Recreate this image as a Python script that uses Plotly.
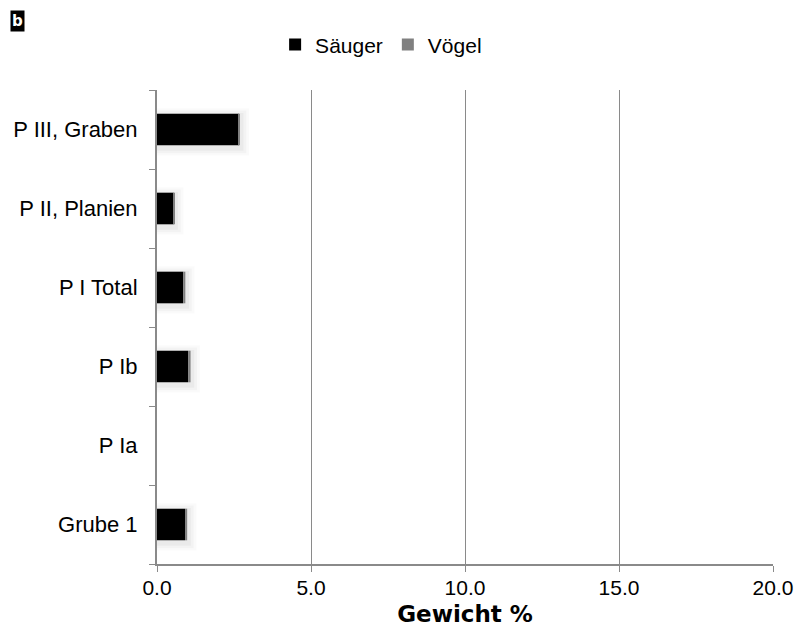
import plotly.graph_objects as go

# Fundstellen (bottom to top on the category axis)
kontexte = ["Grube 1", "P Ia", "P Ib", "P I Total", "P II, Planien", "P III, Graben"]
saeuger = [0.91, 0.0, 1.01, 0.85, 0.54, 2.66]
voegel = [0.07, 0.0, 0.08, 0.07, 0.02, 0.03]
x_ticks = [0, 5, 10, 15, 20]
x_labels = ["0.0", "5.0", "10.0", "15.0", "20.0"]

axis_grey = "#8a8a8a"
font_main = "Liberation Sans, Arial, sans-serif"
bar_w = 0.4

totals = [s + v for s, v in zip(saeuger, voegel)]

fig = go.Figure()

# soft drop shadow under each stacked bar
for grow, alpha in [(0.2, 0.02), (0.14, 0.028), (0.08, 0.035)]:
    w = bar_w + grow
    fig.add_trace(go.Bar(
        y=kontexte, x=[t + grow * 1.5 if t > 0 else 0 for t in totals],
        orientation="h", width=w, offset=-w / 2 - 0.03,
        marker=dict(color=f"rgba(0,0,0,{alpha})", line=dict(width=0)),
        showlegend=False, hoverinfo="skip",
    ))

fig.add_trace(go.Bar(
    y=kontexte, x=saeuger, orientation="h", name="Säuger",
    marker=dict(color="#000000", line=dict(width=0)), width=bar_w,
    offset=-bar_w / 2,
))
fig.add_trace(go.Bar(
    y=kontexte, x=voegel, base=saeuger, orientation="h", name="Vögel",
    marker=dict(color="#808080", line=dict(width=0)), width=bar_w,
    offset=-bar_w / 2,
))

fig.update_layout(
    barmode="overlay",
    width=794, height=639,
    paper_bgcolor="white", plot_bgcolor="white",
    margin=dict(l=157, r=21, t=90, b=75, autoexpand=False),
    font=dict(family=font_main, size=22, color="#000000"),
    showlegend=True,
    legend=dict(
        orientation="h", x=0.48, xref="container", xanchor="center",
        y=0.93, yref="container", yanchor="middle",
        font=dict(size=21), itemwidth=30, traceorder="normal",
    ),
    xaxis=dict(
        range=[0, 20], tickvals=x_ticks, ticktext=x_labels,
        showgrid=True, gridcolor=axis_grey, gridwidth=1.3,
        showline=True, linecolor=axis_grey, linewidth=2,
        ticks="outside", ticklen=6, tickcolor=axis_grey, tickwidth=1.3,
        zeroline=False, tickfont=dict(size=21), ticklabelstandoff=-2,
        title=dict(text="<b>Gewicht %</b>", font=dict(size=23, family="DejaVu Sans, sans-serif"), standoff=8),
    ),
    yaxis=dict(
        categoryorder="array", categoryarray=kontexte,
        showline=True, linecolor=axis_grey, linewidth=2,
        ticks="outside", ticklen=6, tickcolor=axis_grey, tickwidth=1.3,
        tickson="boundaries", showgrid=False, ticklabelstandoff=13,
    ),
)

# Panel letter in the upper left corner
fig.add_annotation(
    text="<b>b</b>", xref="paper", yref="paper", x=-0.238, y=1.169,
    xanchor="left", yanchor="top", showarrow=False,
    font=dict(color="white", size=15, family="DejaVu Sans, sans-serif"),
    bgcolor="black", borderpad=1,
)

fig.write_html("out.html")
